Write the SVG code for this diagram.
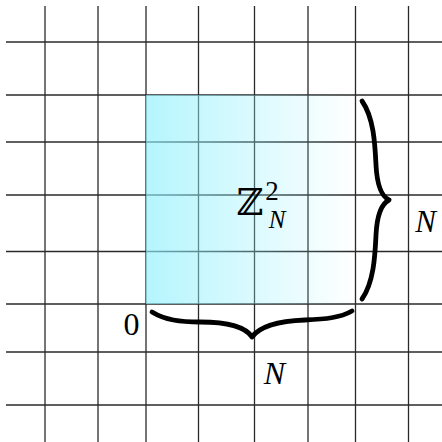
<svg xmlns="http://www.w3.org/2000/svg" width="442" height="442" viewBox="0 0 442 442">
  <defs>
    <linearGradient id="shade" x1="0" y1="0" x2="1" y2="0">
      <stop offset="0" stop-color="#8ff0fc" stop-opacity="0.66"/>
      <stop offset="1" stop-color="#8ff0fc" stop-opacity="0"/>
    </linearGradient>
    <style>
      .grid line { stroke: #2a2a2a; stroke-width: 1.3; }
      .brace { fill: none; stroke: #000; stroke-width: 4.8; stroke-linecap: round; stroke-linejoin: round; }
      .t { font-family: "Liberation Serif", "Times New Roman", serif; fill: #000; }
      .z { font-family: "DejaVu Serif", serif; fill: #000; }
      .it { font-style: italic; }
    </style>
  </defs>
  <rect width="442" height="442" fill="#fff"/>
  <g id="grid" class="grid">
    <line x1="45" y1="6" x2="45" y2="442"/>
    <line x1="98" y1="6" x2="98" y2="442"/>
    <line x1="146" y1="6" x2="146" y2="442"/>
    <line x1="198.5" y1="6" x2="198.5" y2="442"/>
    <line x1="254.5" y1="6" x2="254.5" y2="442"/>
    <line x1="308" y1="6" x2="308" y2="442"/>
    <line x1="355.5" y1="6" x2="355.5" y2="442"/>
    <line x1="408.5" y1="6" x2="408.5" y2="442"/>
    <line x1="6" y1="42" x2="442" y2="42"/>
    <line x1="6" y1="95" x2="442" y2="95"/>
    <line x1="6" y1="142" x2="442" y2="142"/>
    <line x1="6" y1="195" x2="442" y2="195"/>
    <line x1="6" y1="251.5" x2="442" y2="251.5"/>
    <line x1="6" y1="304" x2="442" y2="304"/>
    <line x1="6" y1="352" x2="442" y2="352"/>
    <line x1="6" y1="405" x2="442" y2="405"/>
  </g>
  <g id="region">
    <rect x="146" y="95" width="209.5" height="209" fill="url(#shade)"/>
    <text class="z" x="250" y="215" font-size="37" text-anchor="middle">ℤ</text>
    <text class="t" x="272" y="200" font-size="27" text-anchor="middle">2</text>
    <text class="t it" x="277" y="228" font-size="25" text-anchor="middle">N</text>
  </g>
  <g id="origin">
    <text class="t" x="131.5" y="335" font-size="32" text-anchor="middle">0</text>
  </g>
  <g id="connectors">
    <path class="brace" d="M152,312 C165,320 180,322 200,322 C225,322 245,326 252,337 C260,326 280,321 305,320 C325,319 340,318 352,311"/>
    <path class="brace" d="M362,101 C374,118 375,145 376,165 C377,185 381,196 389,200 C381,204 377,215 376,235 C375,255 374,282 362,299"/>
  </g>
  <g id="label-bottom">
    <text class="t it" x="274.5" y="384" font-size="32" text-anchor="middle">N</text>
  </g>
  <g id="label-right">
    <text class="t it" x="425.5" y="232" font-size="31" text-anchor="middle">N</text>
  </g>
</svg>
